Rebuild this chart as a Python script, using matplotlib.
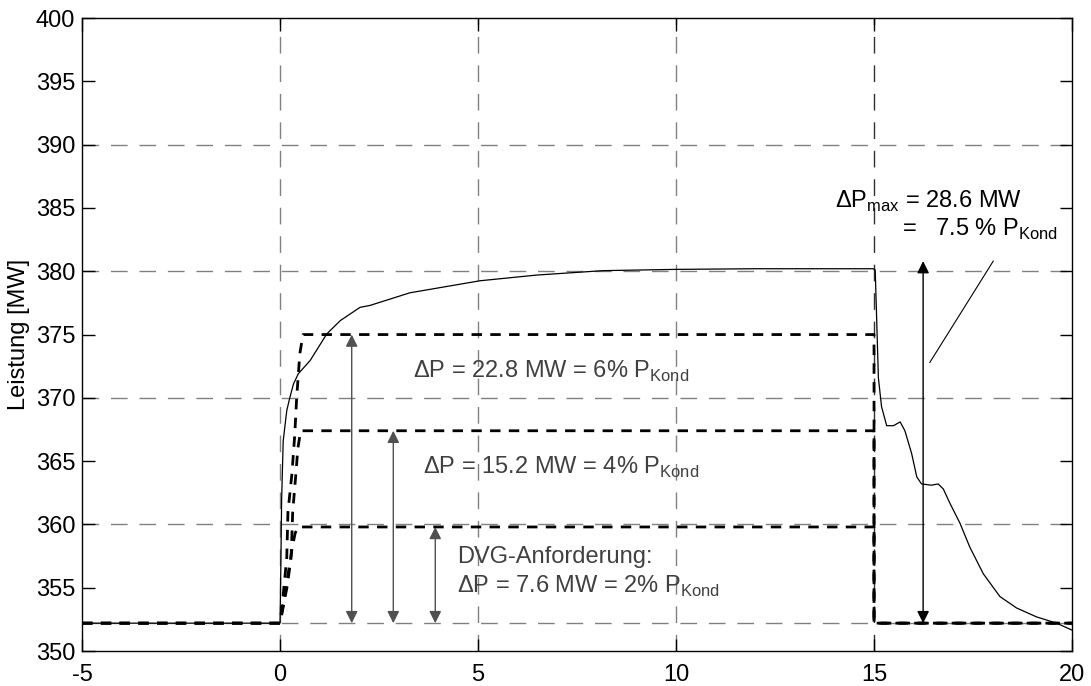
import matplotlib
matplotlib.use('Agg')
import matplotlib.pyplot as plt

plt.rcParams['font.family'] = ['Liberation Sans', 'DejaVu Sans']
plt.rcParams['mathtext.fontset'] = 'custom'
plt.rcParams['mathtext.rm'] = 'Liberation Sans'
plt.rcParams['lines.scale_dashes'] = False
plt.rcParams['axes.unicode_minus'] = False

# Grundlast und Sprunghöhen der DVG-Anforderung
P0 = 352.2
dP_steps = [7.6, 15.2, 22.8]
dP_max = 28.6

# gemessene Leistung [MW] über der Zeit
t_mess = [-5, -0.1, 0, 0.02, 0.04, 0.08, 0.17, 0.25, 0.34, 0.46, 0.76, 1.18, 1.52, 2.02,
          2.27, 3.28, 5.05, 6.48, 8.16, 10, 12, 14.98,
          15.03, 15.11, 15.19, 15.32, 15.49, 15.66, 15.78, 15.95, 16.08, 16.2, 16.45,
          16.62, 16.75, 16.92, 17.17, 17.42, 17.76, 18.18, 18.6, 19.1, 19.61, 20.0]
P_mess = [352.2, 352.2, 352.2, 356.6, 361.9, 366.6, 369.0, 370.05, 371.1, 371.9, 372.95,
          375.05, 376.1, 377.15, 377.3, 378.3, 379.25, 379.7, 380.05, 380.15, 380.2, 380.2,
          380.1, 371.6, 369.3, 367.8, 367.8, 368.1, 367.4, 365.6, 363.75, 363.2, 363.1,
          363.2, 362.8, 361.65, 360.1, 358.2, 356.1, 354.3, 353.4, 352.7, 352.2, 351.65]

# Sollwertrampen der drei Anforderungsstufen
t_soll = [
    [-5, 0, 0.1, 0.2, 0.3, 0.38, 0.46, 15, 15, 20],
    [-5, 0, 0.08, 0.18, 0.28, 0.32, 0.4, 0.45, 0.52, 15, 15, 20],
    [-5, 0, 0.05, 0.1, 0.17, 0.2, 0.3, 0.37, 0.42, 0.5, 0.58, 15, 15, 20],
]
P_soll = [
    [352.2, 352.2, 354.0, 356.0, 358.0, 359.3, 359.8, 359.8, 352.2, 352.2],
    [352.2, 352.2, 353.5, 355.1, 357.4, 361.0, 364.0, 366.0, 367.4, 367.4, 352.2, 352.2],
    [352.2, 352.2, 353.5, 355.1, 357.4, 361.0, 364.0, 367.0, 370.0, 373.5, 375.0, 375.0,
     352.2, 352.2],
]

texte = ['DVG-Anforderung:\n$\\Delta$P = 7.6 MW = 2% P$_{\\mathregular{Kond}}$',
         '$\\Delta$P = 15.2 MW = 4% P$_{\\mathregular{Kond}}$',
         '$\\Delta$P = 22.8 MW = 6% P$_{\\mathregular{Kond}}$']
text_pos = [(4.47, 356.2), (3.6, 364.5), (3.36, 372.1)]
pfeil_x = [3.92, 2.86, 1.81]

fig = plt.figure(figsize=(10.91, 6.86), dpi=100)
ax = fig.add_axes([0.0752, 0.051, 0.9074, 0.9226])

grau = '#808080'
gd = (0, (12, 8.5))
for y in [P0, 360, 370, 380, 390]:
    ax.axhline(y, color=grau, lw=1.0, ls=gd, zorder=1)
for x in [0, 5, 10]:
    ax.axvline(x, color=grau, lw=1.0, ls=gd, zorder=1)
ax.axvline(15, color='#303030', lw=1.0, ls=gd, zorder=1)

for ts, ps in zip(t_soll, P_soll):
    ax.plot(ts, ps, color='black', lw=2.0, ls=(0, (7.5, 6)), zorder=3)
ax.plot(t_mess, P_mess, color='black', lw=0.9, zorder=4)

for dp, xp in zip(dP_steps, pfeil_x):
    ax.annotate('', xy=(xp, P0 + dp), xytext=(xp, P0),
                arrowprops=dict(arrowstyle='<|-|>', color='#505050', lw=1.0,
                                mutation_scale=18, shrinkA=0, shrinkB=0), zorder=5)
ax.annotate('', xy=(16.24, P0 + dP_max), xytext=(16.24, P0),
            arrowprops=dict(arrowstyle='<|-|>', color='black', lw=1.0,
                            mutation_scale=18, shrinkA=0, shrinkB=0), zorder=5)

for txt, (xt, yt) in zip(texte, text_pos):
    ax.text(xt, yt, txt, fontsize=17, color='#404040', ha='left', va='center',
            linespacing=1.3)

ax.text(14.02, 385.5, '$\\Delta$P$_{\\mathregular{max}}$ = 28.6 MW', fontsize=17,
        color='black', ha='left', va='center')
ax.text(15.7, 383.3, '=   7.5 % P$_{\\mathregular{Kond}}$', fontsize=17,
        color='black', ha='left', va='center')
ax.plot([16.41, 18.01], [372.8, 380.8], color='black', lw=0.8)

ax.set_xlim(-5, 20)
ax.set_ylim(350, 400)
ax.set_xticks([-5, 0, 5, 10, 15, 20])
ax.set_yticks(range(350, 401, 5))
ax.tick_params(axis='both', direction='in', length=9, width=1, labelsize=17,
               top=True, right=True)
ax.tick_params(axis='y', pad=5)
ax.tick_params(axis='x', pad=9)
for s in ax.spines.values():
    s.set_linewidth(1.0)
ax.set_ylabel('Leistung [MW]', fontsize=17, labelpad=4)

fig.savefig('out.png', dpi=100)
